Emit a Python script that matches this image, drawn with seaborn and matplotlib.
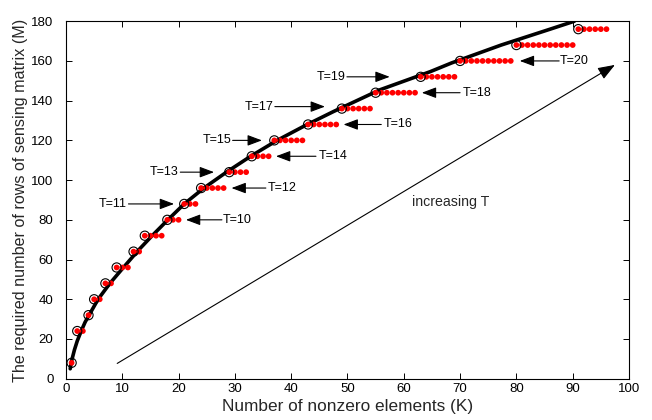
import matplotlib
matplotlib.use("Agg")
import matplotlib.pyplot as plt
import seaborn as sns
import pandas as pd

# Sensing-matrix rows M and the range of sparsity levels K that need exactly M rows
m_rows = [8, 24, 32, 40, 48, 56, 64, 72, 80, 88, 96, 104, 112, 120, 128, 136, 144, 152, 160, 168, 176]
k_first = [1, 2, 4, 5, 7, 9, 12, 14, 18, 21, 24, 29, 33, 37, 43, 49, 55, 63, 70, 80, 91]
k_last = [1, 3, 4, 6, 8, 11, 13, 17, 20, 23, 28, 32, 36, 42, 48, 54, 62, 69, 79, 90, 96]

# Fitted trend of required M against K
curve_k = [0.75, 1.0, 1.5, 2.0, 2.7, 3.4, 4.1, 5.7, 7.8, 10.2, 12.8, 15.3, 18.1, 21.0,
           24.5, 28.5, 32.8, 37.5, 42.5, 47.5, 55.8, 64.7, 68.5, 77.3, 86.0, 90.3]
curve_m = [5.0, 9.0, 14.5, 19.0, 24.0, 28.5, 32.0, 40.0, 48.0, 56.0, 64.5, 72.0, 80.0, 88.0,
           96.0, 104.0, 112.0, 120.0, 127.5, 134.5, 145.5, 154.6, 159.0, 168.0, 176.0, 180.0]

# T labels
t_labels = ["T=10", "T=11", "T=12", "T=13", "T=14", "T=15", "T=16", "T=17", "T=18", "T=19", "T=20"]

dots = pd.DataFrame(
    [(k, m) for m, a, b in zip(m_rows, k_first, k_last) for k in range(a, b + 1)],
    columns=["K", "M"],
)
firsts = pd.DataFrame({"K": k_first, "M": m_rows})
curve = pd.DataFrame({"K": curve_k, "M": curve_m})

sns.set_theme(style="ticks")
plt.rcParams["font.family"] = ["Liberation Sans", "DejaVu Sans"]

fig = plt.figure(figsize=(6.52, 4.20), dpi=100)
ax = fig.add_axes([0.1012, 0.0983, 0.8635, 0.8512])
ax.set_facecolor("white")

sns.lineplot(data=curve, x="K", y="M", color="black", lw=2.6, sort=False,
             ax=ax, zorder=2)
sns.scatterplot(data=dots, x="K", y="M", color="red", s=17, edgecolor="none",
                linewidth=0, ax=ax, zorder=3)
sns.scatterplot(data=firsts, x="K", y="M", facecolor="none", edgecolor="black",
                s=44, linewidth=0.8, ax=ax, zorder=4)

# label placement: (text x, alignment, y, arrow tail x, arrow tip x)
label_layout = [
    (27.9, "left", 80, 27.7, 21.3),
    (10.8, "right", 88, 11.1, 19.2),
    (35.8, "left", 96, 35.5, 29.4),
    (19.9, "right", 104, 20.3, 26.3),
    (44.8, "left", 112, 44.4, 37.3),
    (29.4, "right", 120, 29.6, 34.8),
    (56.4, "left", 128, 56.0, 49.3),
    (36.8, "right", 137, 37.1, 46.0),
    (70.5, "left", 144, 70.0, 63.2),
    (49.6, "right", 152, 49.9, 57.5),
    (87.7, "left", 160, 87.6, 80.6),
]
arrow_kw = dict(arrowstyle="-|>,head_length=0.8,head_width=0.3",
                color="black", lw=0.8, mutation_scale=11, shrinkA=0, shrinkB=0)
for label, (tx, ha, y, tail, tip) in zip(t_labels, label_layout):
    ax.text(tx, y, label, ha=ha, va="center", fontsize=9, color="black")
    ax.annotate("", xy=(tip, y), xytext=(tail, y), arrowprops=arrow_kw)

big_arrow = dict(arrow_kw, mutation_scale=13)
ax.annotate("", xy=(97.5, 158), xytext=(9.1, 7.7), arrowprops=big_arrow)
ax.text(61.4, 89, "increasing T", ha="left", va="center", fontsize=10.2)

ax.set_xlim(0, 100)
ax.set_ylim(0, 180)
ax.set_xticks(range(0, 101, 10))
ax.set_yticks(range(0, 181, 20))
ax.tick_params(direction="in", length=4, width=0.7, labelsize=9.5,
               top=True, right=True, colors="black")
ax.tick_params(axis="x", pad=3)
ax.tick_params(axis="y", pad=9)
for s in ax.spines.values():
    s.set_linewidth(0.8)
    s.set_color("black")
ax.set_xlabel("Number of nonzero elements (K)", fontsize=12.4, labelpad=3)
ax.set_ylabel("The required number of rows of sensing matrix (M)", fontsize=11.6, labelpad=2)

fig.savefig("out.png", dpi=100)
